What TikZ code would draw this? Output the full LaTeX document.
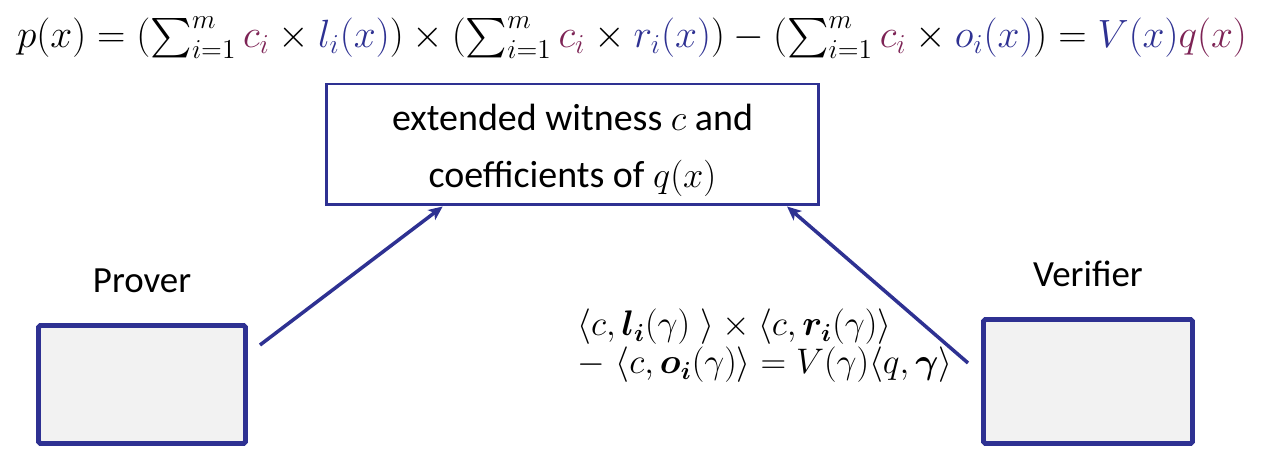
\documentclass[tikz,border=0pt]{standalone}
\usepackage{amsmath}
\usepackage{graphicx}
\usepackage[no-math]{fontspec}
\newfontfamily\calibri{Carlito}
\usepackage{xcolor}
\usepackage{tikz}
\usetikzlibrary{arrows.meta,positioning,shadows,calc}

\definecolor{navy}{RGB}{46,49,146}
\definecolor{plum}{RGB}{125,35,85}
\newcommand{\wit}[1]{\textcolor{plum}{#1}}
\newcommand{\pol}[1]{\textcolor{navy}{#1}}

\begin{document}
\begin{tikzpicture}[x=0.02cm,y=-0.02cm,
    party/.style={draw=navy, line width=2.8pt, fill=black!5, rounded corners=1pt,
      drop shadow={shadow xshift=0.6pt, shadow yshift=-1pt, opacity=0.3}},
    who/.style={inner sep=0pt, font=\calibri\fontsize{21}{25}\selectfont},
    link/.style={draw=navy, line width=2pt, -{Stealth[length=8pt, width=7pt, inset=2pt]}}]
      \useasboundingbox (0,0) rectangle (1280,472);
      \node (formula) [inner sep=0pt] at (632,38) {\resizebox{24.6cm}{!}{\fontsize{17.28}{20}\selectfont
        $p(x) = (\textstyle\sum_{i=1}^{m} \wit{c_i} \times \pol{l_i(x)}) \times
        (\textstyle\sum_{i=1}^{m} \wit{c_i} \times \pol{r_i(x)}) -
        (\textstyle\sum_{i=1}^{m} \wit{c_i} \times \pol{o_i(x)}) = \pol{V(x)}\wit{q(x)}$}};
      \node (witness) [draw=navy, line width=1.7pt, minimum width=9.85cm, minimum height=2.42cm,
        align=center, font=\calibri\fontsize{21.6}{32.4}\selectfont] at (572.5,144.5)
        {\rule{0pt}{22pt}extended witness $c$ and\\ coefficients of $q(x)$};

      \node (prover) [party, minimum width=4.14cm, minimum height=2.36cm] at (142,384.5) {};
      \node (verifier) [party, minimum width=4.18cm, minimum height=2.48cm] at (1088,381.5) {};
      \node (proverlabel) [who, above=0.6cm of prover] {Prover};
      \node (verifierlabel) [who, above=0.6cm of verifier] {Verifier};

      \node (check) [anchor=west, align=left, scale=1.17, transform shape,
        font=\fontsize{17.28}{18.5}\selectfont] at (570,346)
        {$\langle c, \boldsymbol{l_i}(\gamma)\ \rangle \times \langle c, \boldsymbol{r_i}(\gamma)\rangle$\\
         $-\ \langle c, \boldsymbol{o_i}(\gamma)\rangle = V(\gamma)\langle q, \boldsymbol{\gamma}\rangle$};

      %% free ends next to the two parties
      \coordinate (pout) at (260,345);
      \coordinate (vout) at (968,363);
      \coordinate (pin) at ($(witness.south west)!0.238!(witness.south east)$);
      \coordinate (vin) at ($(witness.south west)!0.933!(witness.south east)$);

      \draw[link] (pout) -- (pin);
      \draw[link] (vout) -- (vin);
    \end{tikzpicture}
\end{document}
